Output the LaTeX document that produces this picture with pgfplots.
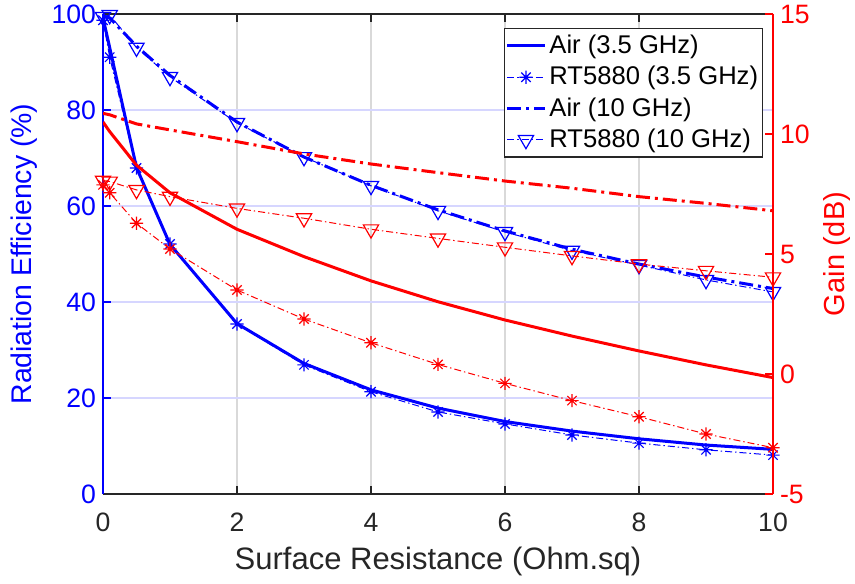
\documentclass[border=0pt]{standalone}
\usepackage{fontspec}
\setmainfont{Liberation Sans}
\usepackage{pgfplots}
\pgfplotsset{compat=1.18}
\usepackage{pgfplotstable}

\definecolor{mblue}{RGB}{0,0,255}
\definecolor{mred}{RGB}{255,0,0}
\definecolor{axgray}{RGB}{38,38,38}

% MATLAB-like 8-arm asterisk
\pgfdeclareplotmark{ast8}{%
  \pgfpathmoveto{\pgfqpoint{-\pgfplotmarksize}{0pt}}%
  \pgfpathlineto{\pgfqpoint{\pgfplotmarksize}{0pt}}%
  \pgfpathmoveto{\pgfqpoint{0pt}{-\pgfplotmarksize}}%
  \pgfpathlineto{\pgfqpoint{0pt}{\pgfplotmarksize}}%
  \pgfpathmoveto{\pgfqpoint{-.707\pgfplotmarksize}{-.707\pgfplotmarksize}}%
  \pgfpathlineto{\pgfqpoint{.707\pgfplotmarksize}{.707\pgfplotmarksize}}%
  \pgfpathmoveto{\pgfqpoint{-.707\pgfplotmarksize}{.707\pgfplotmarksize}}%
  \pgfpathlineto{\pgfqpoint{.707\pgfplotmarksize}{-.707\pgfplotmarksize}}%
  \pgfusepathqstroke}

% radiation efficiency (%)
\pgfplotstableread{
x    airA  rtA   airB  rtB
0    99.2  98.7  99.6  99.4
0.1  93.0  91.0  99.2  99.8
0.5  68.0  67.9  93.3  93.0
1    52.0  52.1  87.2  86.9
2    35.5  35.4  77.5  77.3
3    27.2  26.9  70.2  70.2
4    21.7  21.3  64.3  64.2
5    17.9  17.1  59.2  59.0
6    15.1  14.6  54.8  54.6
7    13.1  12.3  51.0  50.7
8    11.5  10.6  47.9  47.7
9    10.2  9.2   45.2  44.6
10   9.3   8.1   42.8  42.1
}\effdata

% gain (dB)
\pgfplotstableread{
x    airA   rtA    airB   rtB
0    10.50  7.88   10.86  8.06
0.1  10.10  7.55   10.80  8.02
0.5  8.70   6.28   10.42  7.67
1    7.55   5.21   10.17  7.39
2    6.03   3.50   9.68   6.90
3    4.89   2.29   9.17   6.49
4    3.88   1.30   8.75   6.03
5    3.01   0.40   8.39   5.65
6    2.25   -0.39  8.04   5.28
7    1.58   -1.11  7.74   4.92
8    0.96   -1.78  7.39   4.58
9    0.38   -2.50  7.11   4.30
10   -0.15  -3.07  6.80   4.03
}\gaindata

\tikzset{
  thickdd/.style={dash pattern=on 7pt off 2.5pt on 1.5pt off 2.5pt},
  thindd/.style={dash pattern=on 3.5pt off 1.5pt on 0.7pt off 1.5pt},
}

\pgfplotsset{
  common/.style={
    scale only axis, width=335pt, height=240pt,
    xmin=0, xmax=10,
    tick align=inside, major tick length=4pt,
    ticklabel style={font=\fontsize{13.3}{15}\selectfont},
    /pgf/number format/assume math mode=true,
    label style={font=\fontsize{14.5}{17}\selectfont},
    separate axis lines,
  },
  airA/.style={line width=1.5pt, solid, mark=none},
  rtA/.style={line width=0.5pt, thindd, mark=ast8, mark size=3.3pt,
    mark options={solid, line width=0.6pt}},
  airB/.style={line width=1.5pt, thickdd, mark=none},
  rtB/.style={line width=0.5pt, thindd, mark=triangle, mark size=4.4pt,
    mark options={solid, rotate=180, line width=0.6pt}},
}

\begin{document}
\begin{tikzpicture}
\begin{axis}[common,
  ymin=0, ymax=100,
  axis y line*=left,
  xtick={0,2,...,10}, ytick={0,20,...,100},
  xmajorgrids, ymajorgrids,
  x grid style={black!15, line width=0.6pt},
  y grid style={mblue!16, line width=0.6pt},
  x axis line style={axgray, line width=0.7pt},
  y axis line style={mblue, line width=0.9pt},
  xtick style={axgray, line width=0.7pt},
  ytick style={mblue, line width=0.9pt},
  xticklabel style={axgray, yshift=-6pt},
  yticklabel style={mblue},
  xlabel={Surface Resistance (Ohm.sq)},
  ylabel={Radiation Efficiency (\%)},
  xlabel style={axgray, font=\fontsize{15.5}{18}\selectfont, yshift=-0.5pt},
  ylabel style={mblue, font=\fontsize{14.2}{17}\selectfont},
  legend style={at={(1,1)}, anchor=north east, xshift=-5pt, yshift=-7pt,
    draw=axgray, line width=0.7pt, font=\fontsize{12.8}{14}\selectfont,
    inner xsep=0.5pt, inner ysep=1.2pt, row sep=0.9pt,
    nodes={inner xsep=1.6pt}},
  legend cell align=left,
  legend image code/.code={%
    \draw[mark repeat=2, mark phase=2]
      plot coordinates {(0cm,0cm) (0.33cm,0cm) (0.66cm,0cm)};},
]
\coordinate (sw) at (rel axis cs:0,0);
\coordinate (ne) at (rel axis cs:1,1);
\addplot[mblue, airA] table[x=x, y=airA] {\effdata};
\addlegendentry{Air (3.5 GHz)}
\addplot[mblue, rtA] table[x=x, y=rtA] {\effdata};
\addlegendentry{RT5880 (3.5 GHz)}
\addplot[mblue, airB] table[x=x, y=airB] {\effdata};
\addlegendentry{Air (10 GHz)}
\addplot[mblue, rtB] table[x=x, y=rtB] {\effdata};
\addlegendentry{RT5880 (10 GHz)}
\end{axis}

\begin{axis}[common,
  ymin=-5, ymax=15,
  axis y line*=right, axis x line=none,
  ytick={-5,0,...,15},
  y axis line style={mred, line width=0.9pt},
  ytick style={mred, line width=0.9pt},
  yticklabel style={mred},
  ylabel={Gain (dB)},
  ylabel style={mred, font=\fontsize{14.5}{17}\selectfont},
]
\addplot[mred, airA] table[x=x, y=airA] {\gaindata};
\addplot[mred, rtA] table[x=x, y=rtA] {\gaindata};
\addplot[mred, airB] table[x=x, y=airB] {\gaindata};
\addplot[mred, rtB] table[x=x, y=rtB] {\gaindata};
\end{axis}
\pgfresetboundingbox
\path ([shift={(-51.5pt,-44.5pt)}]sw) rectangle ([shift={(41pt,7pt)}]ne);
\end{tikzpicture}
\end{document}
